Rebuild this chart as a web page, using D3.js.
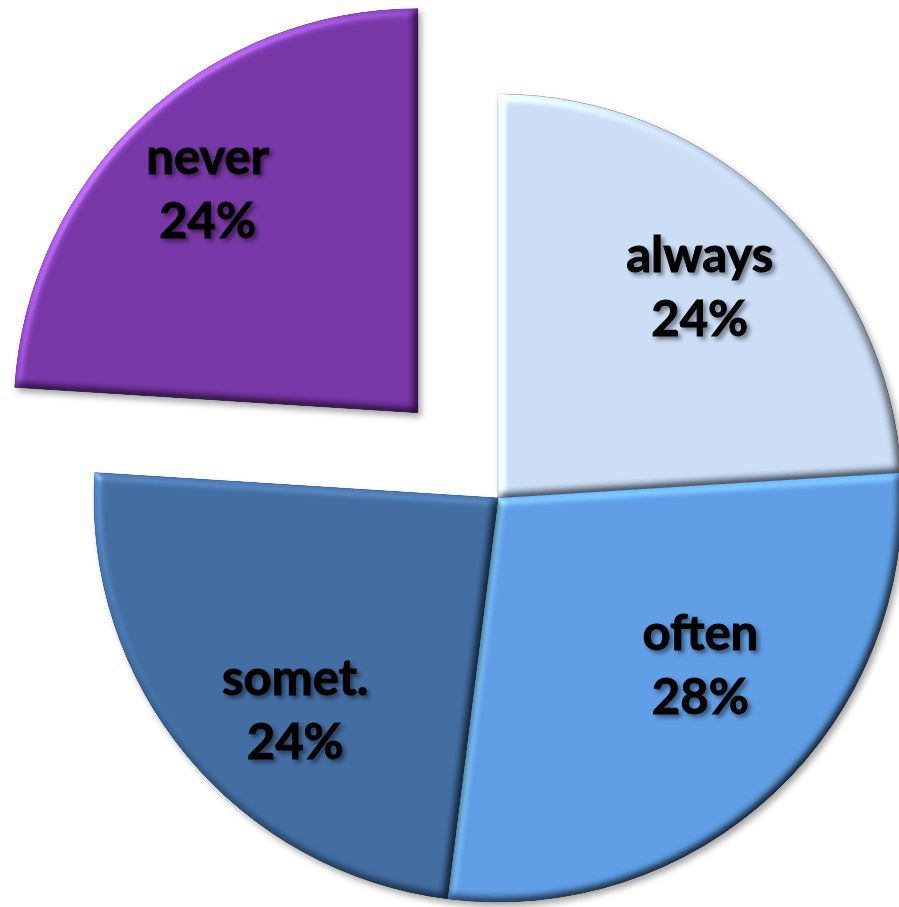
<!DOCTYPE html>
<html>
<head>
<meta charset="utf-8">
<script src="https://cdn.jsdelivr.net/npm/d3@7"></script>
<style>
  html, body { margin: 0; padding: 0; background: #fff; }
  svg { display: block; }
</style>
</head>
<body>
<svg id="chart" width="899" height="907"></svg>
<script>
// Survey answers, clockwise from 12 o'clock
const categories = ["always", "often", "somet.", "never"];
const values = [24, 28, 24, 24];

// Slice appearance and label placement
const colors = ["#C6D9F1", "#5B9AE0", "#3E699D", "#7433A3"];
const explode = [0, 0, 0, 117];
const labelRadius = [291, 263, 294, 306];
const labelShiftDeg = [0.7, -7.1, -6.8, -0.2];

const W = 899, H = 907;
const cx = 498, cy = 498, R = 404;

const svg = d3.select("#chart");
const defs = svg.append("defs");

// Bevelled, lit surface for the slices
const bevel = defs.append("filter").attr("id", "bevel")
  .attr("color-interpolation-filters", "sRGB")
  .attr("x", "-10%").attr("y", "-10%").attr("width", "125%").attr("height", "125%");
bevel.append("feGaussianBlur").attr("in", "SourceAlpha").attr("stdDeviation", 4).attr("result", "blur");
const diff = bevel.append("feDiffuseLighting").attr("in", "blur")
  .attr("surfaceScale", 4).attr("diffuseConstant", 1).attr("lighting-color", "#fff").attr("result", "diff");
diff.append("feDistantLight").attr("azimuth", 225).attr("elevation", 50);
bevel.append("feComposite").attr("in", "SourceGraphic").attr("in2", "diff")
  .attr("operator", "arithmetic").attr("k1", 1.305).attr("k2", 0).attr("k3", 0).attr("k4", 0).attr("result", "lit");
const spec = bevel.append("feSpecularLighting").attr("in", "blur")
  .attr("surfaceScale", 4).attr("specularConstant", 0.7).attr("specularExponent", 24)
  .attr("lighting-color", "#fff").attr("result", "spec");
spec.append("feDistantLight").attr("azimuth", 225).attr("elevation", 40);
bevel.append("feComposite").attr("in", "spec").attr("in2", "SourceAlpha").attr("operator", "in").attr("result", "specIn");
bevel.append("feComposite").attr("in", "lit").attr("in2", "specIn")
  .attr("operator", "arithmetic").attr("k1", 0).attr("k2", 1).attr("k3", 0.3).attr("k4", 0).attr("result", "shaded");
bevel.append("feComposite").attr("in", "shaded").attr("in2", "SourceAlpha").attr("operator", "in").attr("result", "surface");
bevel.append("feGaussianBlur").attr("in", "SourceAlpha").attr("stdDeviation", 3).attr("result", "sb");
bevel.append("feOffset").attr("in", "sb").attr("dx", 3).attr("dy", 4).attr("result", "so");
bevel.append("feComponentTransfer").attr("in", "so").attr("result", "shadow")
  .append("feFuncA").attr("type", "linear").attr("slope", 0.35);
const bm = bevel.append("feMerge");
bm.append("feMergeNode").attr("in", "shadow");
bm.append("feMergeNode").attr("in", "surface");

// Soft shadow behind label text
const ts = defs.append("filter").attr("id", "textShadow")
  .attr("color-interpolation-filters", "sRGB")
  .attr("x", "-10%").attr("y", "-20%").attr("width", "130%").attr("height", "150%");
ts.append("feGaussianBlur").attr("in", "SourceAlpha").attr("stdDeviation", 2).attr("result", "b");
ts.append("feOffset").attr("in", "b").attr("dx", 3).attr("dy", 3).attr("result", "o");
ts.append("feComponentTransfer").attr("in", "o").attr("result", "s")
  .append("feFuncA").attr("type", "linear").attr("slope", 0.45);
const tm = ts.append("feMerge");
tm.append("feMergeNode").attr("in", "s");
tm.append("feMergeNode").attr("in", "SourceGraphic");

const data = categories.map((c, i) => ({ name: c, value: values[i], idx: i }));
const total = d3.sum(values);

const pie = d3.pie().value(d => d.value).sort(null);
const arcs = pie(data);
const arc = d3.arc().innerRadius(0).outerRadius(R);

const offsetOf = d => {
  const mid = (d.startAngle + d.endAngle) / 2;
  const e = explode[d.data.idx];
  return [Math.sin(mid) * e, -Math.cos(mid) * e];
};

const g = svg.append("g").attr("transform", `translate(${cx},${cy})`);

g.selectAll("path.slice")
  .data(arcs)
  .join("path")
  .attr("class", "slice")
  .attr("transform", d => `translate(${offsetOf(d)})`)
  .attr("d", arc)
  .attr("fill", d => colors[d.data.idx])
  .attr("stroke", d => d3.color(colors[d.data.idx]).darker(0.6))
  .attr("stroke-width", 0.8)
  .attr("filter", "url(#bevel)");

const fmt = v => Math.round(v / total * 100) + "%";

const labels = g.selectAll("text.label")
  .data(arcs)
  .join("text")
  .attr("class", "label")
  .attr("transform", d => {
    const i = d.data.idx;
    const [ox, oy] = offsetOf(d);
    const a = (d.startAngle + d.endAngle) / 2 + labelShiftDeg[i] * Math.PI / 180;
    const r = labelRadius[i];
    return `translate(${ox + Math.sin(a) * r},${oy - Math.cos(a) * r})`;
  })
  .attr("text-anchor", "middle")
  .attr("font-family", "Lato, 'Open Sans', sans-serif")
  .attr("font-weight", 700)
  .attr("font-size", 49)
  .attr("fill", "#000")
  .attr("stroke", "#000")
  .attr("stroke-width", 1)
  .attr("filter", "url(#textShadow)");

labels.append("tspan").attr("x", 0).attr("y", -16).text(d => d.data.name);
labels.append("tspan").attr("x", 0).attr("y", 48).text(d => fmt(d.data.value));
</script>
</body>
</html>
